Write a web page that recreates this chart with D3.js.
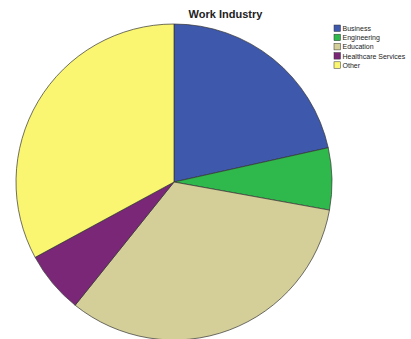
<!DOCTYPE html>
<html>
<head>
<meta charset="utf-8">
<script src="https://cdn.jsdelivr.net/npm/d3@7"></script>
<style>
  html, body { margin: 0; padding: 0; background: #fff; }
  svg { display: block; }
</style>
</head>
<body>
<script>
// Work industry breakdown (respondent counts)
const categories = ["Business", "Engineering", "Education", "Healthcare Services", "Other"];
const counts = [17, 5, 26, 5, 26];
const colors = ["#3e58ab", "#2fb84b", "#d4cf98", "#7b2778", "#faf672"];

const width = 411, height = 339;
const cx = 174, cy = 182, radius = 158;

const svg = d3.select("body").append("svg")
  .attr("width", width)
  .attr("height", height);

const color = d3.scaleOrdinal().domain(categories).range(colors);

const pie = d3.pie().sort(null).value(d => d.value);
const arc = d3.arc().innerRadius(0).outerRadius(radius);

const data = categories.map((c, i) => ({ name: c, value: counts[i] }));

svg.append("g")
  .attr("transform", `translate(${cx},${cy})`)
  .selectAll("path")
  .data(pie(data))
  .join("path")
  .attr("d", arc)
  .attr("fill", d => color(d.data.name))
  .attr("stroke", "#333")
  .attr("stroke-width", 0.7)
  .attr("stroke-linejoin", "round");

svg.append("text")
  .attr("x", 225.5)
  .attr("y", 18)
  .attr("text-anchor", "middle")
  .attr("font-family", "Liberation Sans, Arial, sans-serif")
  .attr("font-weight", "bold")
  .attr("font-size", 11)
  .attr("fill", "#222")
  .text("Work Industry");

const legend = svg.append("g").attr("transform", "translate(334,25)");
const row = legend.selectAll("g")
  .data(categories)
  .join("g")
  .attr("transform", (d, i) => `translate(0,${i * 9.2})`);

row.append("rect")
  .attr("width", 6.5)
  .attr("height", 6.5)
  .attr("fill", d => color(d))
  .attr("stroke", "#333")
  .attr("stroke-width", 0.5);

row.append("text")
  .attr("x", 8.5)
  .attr("y", 6)
  .attr("font-family", "Liberation Sans, Arial, sans-serif")
  .attr("font-size", 7)
  .attr("fill", "#222")
  .text(d => d);
</script>
</body>
</html>
